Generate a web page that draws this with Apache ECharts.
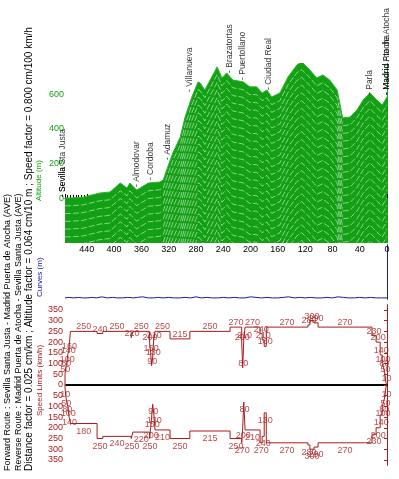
<!DOCTYPE html>
<html>
<head>
<meta charset="utf-8">
<script src="https://cdn.jsdelivr.net/npm/echarts@6/dist/echarts.min.js"></script>
<style>
html,body{margin:0;padding:0;background:#fff}
#main{width:399px;height:479px}
</style>
</head>
<body>
<div id="main"></div>
<script>
// altitude profile (km from Madrid, m)
var profileKm  = [472,465,446,421,406,391,381,377,367,362,350,333,328,323,314,303,296,286,277,274,267,249,242,235,226,211,201,191,183,176,169,157,145,132,125,113,103,94,84,73,65,54,44,35,25,15,7,0];
var profileAlt = [0,0,5,29,35,87,58,87,46,58,87,93,104,162,261,354,470,586,673,667,626,760,696,725,684,673,644,644,609,626,586,609,702,771,789,742,696,713,684,626,464,470,510,568,609,568,539,586];

// stations
var stationNames = ['- Sevilla Sta Justa','- Sevilla','- Almodovar','- Cordoba','- Adamuz','- Villanueva','- Brazatortas','- Puertollano','- Ciudad Real','- Parla','- Madrid Pta de Atocha','- Madrid Atocha'];
var stationKm    = [475,475,367,347,321,289,230,212,174,26,0,0];
var stationAlt   = [5,5,64,104,220,615,725,684,626,597,597,597];

// curves (m)
var curvesKm  = [472,466,460,452,446,440,432,426,418,410,402,396,388,380,372,366,358,350,342,336,328,320,312,304,296,288,280,272,264,256,248,240,232,224,216,208,200,192,184,176,168,160,152,144,136,128,120,112,104,96,88,80,72,64,56,48,40,32,24,16,8,0];
var curvesVal = [2,3,2,3,2,2,3,2,4,2,3,2,2,3,2,3,4,2,2,3,2,3,2,2,3,2,4,2,3,2,2,3,2,3,2,2,4,3,2,3,2,2,3,4,2,3,2,3,2,2,3,2,4,3,2,2,3,2,3,2,2,2];

// speed limits: value holds from km[i] to km[i+1]
var fwdKm    = [472,472,471,469.5,468,466.5,464,425,416.5,375,372.5,348,346.5,345,343.5,342,340,318,289,230,213,211.5,210,208,186,183,180,177,116,113,107,101,22,16,10,7,5,3,1.5,0];
var fwdSpeed = [0,50,80,100,140,160,250,240,250,220,250,200,150,90,130,210,250,215,250,270,200,80,210,270,240,210,180,270,280,300,290,270,230,200,140,100,80,50,10,0];
var revKm    = [472,472,471,469.5,468,466.5,464,425,416.5,375,372.5,348,346.5,345,343.5,342,340,318,289,230,213,211.5,210,208,186,183,180,177,116,113,107,101,22,16,10,7,5,3,1.5,0];
var revSpeed = [0,10,50,80,100,140,180,250,240,250,220,250,200,150,90,130,210,250,215,250,270,200,80,210,270,240,130,270,280,300,290,270,230,200,140,100,80,50,10,0];

var altTicks = [0,200,400,600];
var speedTicks = [-350,-300,-250,-200,-150,-100,-50,0,50,100,150,200,250,300,350];

var GREEN = '#14a014', BLUE = '#1a1aa0', RED = '#a81c1c';
var FONT = '"Liberation Sans", Arial, sans-serif';

function zip(a, b, sign) {
  var out = [];
  for (var i = 0; i < a.length; i++) out.push([a[i], b[i] * (sign || 1)]);
  return out;
}
function segLabels(km, sp, sign) {
  var out = [];
  for (var i = 0; i < km.length - 1; i++) {
    if (km[i] !== km[i + 1] && sp[i] > 0) out.push([(km[i] + km[i + 1]) / 2, sp[i] * sign]);
  }
  return out;
}

var series = [];
series.push({
  type: 'line', xAxisIndex: 0, yAxisIndex: 0, data: zip(profileKm, profileAlt),
  symbol: 'none', silent: true, z: 2,
  lineStyle: {color: '#30b430', width: 1},
  areaStyle: {color: GREEN, opacity: 1, origin: 'start'}
});
// light stripes following the profile
for (var k = 1; k <= 24; k++) {
  var shifted = [];
  for (var i = 0; i < profileKm.length; i++) shifted.push([profileKm[i], profileAlt[i] - k * 45]);
  series.push({
    type: 'line', xAxisIndex: 0, yAxisIndex: 0, data: shifted, symbol: 'none', silent: true, z: 3,
    lineStyle: {color: '#ffffff', width: 1, opacity: 0.5, type: [6, 2]}
  });
}
series.push({
  type: 'scatter', xAxisIndex: 0, yAxisIndex: 0, clip: false, symbolSize: 0, z: 5,
  data: stationKm.map(function (v, i) { return {value: [v, stationAlt[i]], name: stationNames[i]}; }),
  label: {show: true, position: 'inside', rotate: 90, align: 'left', verticalAlign: 'middle',
    formatter: '{b}', color: '#000', fontSize: 8.5, fontFamily: FONT}
});
series.push({
  type: 'line', xAxisIndex: 1, yAxisIndex: 1, data: zip(curvesKm, curvesVal), symbol: 'none',
  lineStyle: {color: BLUE, width: 1}
});
series.push({
  type: 'line', step: 'end', xAxisIndex: 2, yAxisIndex: 3, data: zip(fwdKm, fwdSpeed, 1),
  symbol: 'none', lineStyle: {color: RED, width: 1}
});
series.push({
  type: 'line', step: 'end', xAxisIndex: 2, yAxisIndex: 3, data: zip(revKm, revSpeed, -1),
  symbol: 'none', lineStyle: {color: RED, width: 1}
});
series.push({
  type: 'scatter', xAxisIndex: 2, yAxisIndex: 3, symbolSize: 0, clip: false,
  data: segLabels(fwdKm, fwdSpeed, 1),
  label: {show: true, position: 'top', distance: 0, color: RED, fontSize: 9, fontFamily: FONT,
    formatter: function (p) { return Math.abs(p.value[1]); }}
});
series.push({
  type: 'scatter', xAxisIndex: 2, yAxisIndex: 3, symbolSize: 0, clip: false,
  data: segLabels(revKm, revSpeed, -1),
  label: {show: true, position: 'bottom', distance: 3, color: RED, fontSize: 9, fontFamily: FONT,
    formatter: function (p) { return Math.abs(p.value[1]); }}
});

function sideText(x, y, text, color, size) {
  return {type: 'text', x: x, y: y, rotation: Math.PI / 2, silent: true,
    style: {text: text, fill: color, font: size + 'px ' + FONT, align: 'left', verticalAlign: 'middle'}};
}

var myChart = echarts.init(document.getElementById('main'));
myChart.setOption({
  animation: false,
  backgroundColor: '#fff',
  textStyle: {fontFamily: FONT},
  grid: [
    {left: 65, top: 63.4, width: 322, height: 179.5},
    {left: 65, top: 245, width: 322, height: 54},
    {left: 65, top: 304.6, width: 322, height: 160.7}
  ],
  xAxis: [
    {gridIndex: 0, type: 'value', min: 0, max: 472, inverse: true, interval: 40,
      axisLine: {lineStyle: {color: '#000', width: 1}},
      axisTick: {inside: true, length: 4, lineStyle: {color: '#000'}},
      minorTick: {show: true, splitNumber: 10, length: 3, lineStyle: {color: '#000'}},
      axisLabel: {fontSize: 9, color: '#000', margin: 2,
        formatter: function (v) { return v % 40 === 0 ? v : ''; }},
      splitLine: {show: false}},
    {gridIndex: 1, type: 'value', min: 0, max: 472, inverse: true, show: false},
    {gridIndex: 2, type: 'value', min: 0, max: 472, inverse: true,
      axisLine: {onZero: true, lineStyle: {color: '#000', width: 2, type: [1, 1]}},
      axisTick: {show: false}, axisLabel: {show: false}, splitLine: {show: false}}
  ],
  yAxis: [
    {gridIndex: 0, type: 'value', min: -260, max: 780,
      axisLine: {show: true, lineStyle: {color: GREEN}},
      axisTick: {show: false},
      axisLabel: {customValues: altTicks, color: GREEN, fontSize: 9, margin: 1},
      splitLine: {show: false}},
    {gridIndex: 1, type: 'value', min: 0, max: 100,
      axisLine: {show: true, lineStyle: {color: BLUE}}, axisTick: {show: false},
      axisLabel: {show: false}, splitLine: {show: false}},
    {gridIndex: 1, type: 'value', min: 0, max: 100, position: 'right',
      axisLine: {show: true, lineStyle: {color: BLUE}}, axisTick: {show: false},
      axisLabel: {show: false}, splitLine: {show: false}},
    {gridIndex: 2, type: 'value', min: -375, max: 375,
      axisLine: {show: true, lineStyle: {color: RED}},
      axisTick: {show: true, customValues: speedTicks, length: 3, lineStyle: {color: RED}},
      axisLabel: {customValues: speedTicks, color: RED, fontSize: 9, margin: 2,
        formatter: function (v) { return Math.abs(v); }},
      splitLine: {show: false}}
  ],
  graphic: [
    sideText(8, 471, 'Forward Route : Sevilla Santa Justa - Madrid Puerta de Atocha (AVE)', '#000', 9),
    sideText(19, 471, 'Reverse Route : Madrid Puerta de Atocha - Sevilla Santa Justa (AVE)', '#000', 9),
    sideText(29, 471, 'Distance factor = 0.025 cm/km ; Altitude factor = 0.064 cm/10 m ; Speed factor = 0.800 cm/100 km/h', '#000', 10),
    sideText(39, 201, 'Altitude (m)', GREEN, 8),
    sideText(40, 297, 'Curves (m)', BLUE, 8),
    sideText(40, 416, 'Speed Limits (km/h)', RED, 8)
  ],
  series: series
});
</script>
</body>
</html>
